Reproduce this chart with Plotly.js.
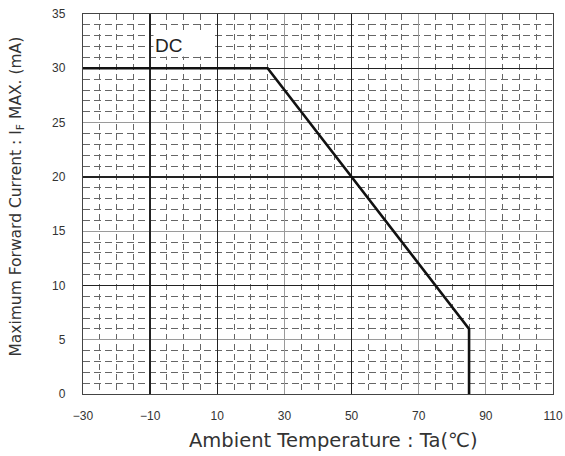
<!DOCTYPE html>
<html>
<head>
<meta charset="utf-8">
<script src="https://cdn.plot.ly/plotly-3.0.1.min.js"></script>
<style>html,body{margin:0;padding:0;background:#fff;}#chart{width:565px;height:456px;}</style>
</head>
<body>
<div id="chart"></div>
<script>
// Derating curve: ambient temperature (°C) vs maximum forward current (mA)
const temperature = [-30, 25, 85, 85];
const currentMax = [30, 30, 6, 0];

const xTickVals = [-30, -10, 10, 30, 50, 70, 90, 110];
const xTickText = ["\u221230", "\u221210", "10", "30", "50", "70", "90", "110"];
const yTickVals = [0, 5, 10, 15, 20, 25, 30, 35];
const xDarkGrid = [-10, 10, 50];
const yDarkGrid = [10, 20, 30];
const seriesLabel = "DC";
const xTitle = "Ambient Temperature : Ta(\u2103)";
const yTitle = "Maximum Forward Current : I<sub>F</sub> MAX. (mA)";

const fontFam = "Liberation Sans, Arial, sans-serif";

const traces = [
  {x: temperature, y: currentMax, xaxis: 'x', yaxis: 'y', type: 'scatter', mode: 'lines',
   line: {color: 'rgba(0,0,0,0)', width: 0}, showlegend: false, hoverinfo: 'skip'},
  {x: temperature, y: currentMax, xaxis: 'x2', yaxis: 'y2', type: 'scatter', mode: 'lines',
   line: {color: '#111', width: 2.6}, showlegend: false}
];

const layout = {
  width: 565, height: 456,
  margin: {l: 83, r: 12, t: 14, b: 62},
  paper_bgcolor: '#fff', plot_bgcolor: '#fff',
  font: {family: fontFam, color: '#333', size: 12},
  xaxis: {
    range: [-30, 110], tickmode: 'array', tickvals: xTickVals, ticktext: xTickText,
    showgrid: true, gridcolor: '#9a9a9a', gridwidth: 1, zeroline: false,
    showline: true, linecolor: '#444', linewidth: 1.2, mirror: true,
    ticks: '', ticklabelstandoff: 10, tickfont: {size: 12, color: '#333'},
    minor: {dtick: 5, tick0: -30, showgrid: true, gridcolor: '#666', gridwidth: 1, griddash: '6px,4px'}
  },
  yaxis: {
    range: [0, 35], tickmode: 'array', tickvals: yTickVals,
    showgrid: true, gridcolor: '#9a9a9a', gridwidth: 1, zeroline: false,
    showline: true, linecolor: '#444', linewidth: 1.2, mirror: true,
    ticks: '', ticklabelstandoff: 14, tickfont: {size: 12, color: '#333'},
    minor: {dtick: 1, tick0: 0, showgrid: true, gridcolor: '#666', gridwidth: 1, griddash: '7px,4px'}
  },
  xaxis2: {
    overlaying: 'x', range: [-30, 110], tickmode: 'array', tickvals: xDarkGrid,
    showticklabels: false, ticks: '', showgrid: true, gridcolor: '#222', gridwidth: 1.4, zeroline: false
  },
  yaxis2: {
    overlaying: 'y', range: [0, 35], tickmode: 'array', tickvals: yDarkGrid,
    showticklabels: false, ticks: '', showgrid: true, gridcolor: '#222', gridwidth: 1.4, zeroline: false
  },
  annotations: [
    {text: seriesLabel, xref: 'x', yref: 'y', x: 0, y: 32.1, showarrow: false, width: 58, height: 20,
     align: 'left', font: {size: 19, color: '#222', family: fontFam}, bgcolor: '#fff', borderpad: 1},
    {text: xTitle, xref: 'paper', yref: 'paper', x: 0.532, y: -0.122, yanchor: 'middle', showarrow: false,
     font: {size: 19.5, color: '#333', family: 'DejaVu Sans, sans-serif'}},
    {text: yTitle, xref: 'paper', yref: 'paper', x: -0.14, y: 0.52, xanchor: 'center', yanchor: 'middle',
     textangle: -90, showarrow: false, font: {size: 15.5, color: '#333', family: 'DejaVu Sans, sans-serif'}}
  ]
};

Plotly.newPlot('chart', traces, layout, {staticPlot: true, displayModeBar: false});
</script>
</body>
</html>
